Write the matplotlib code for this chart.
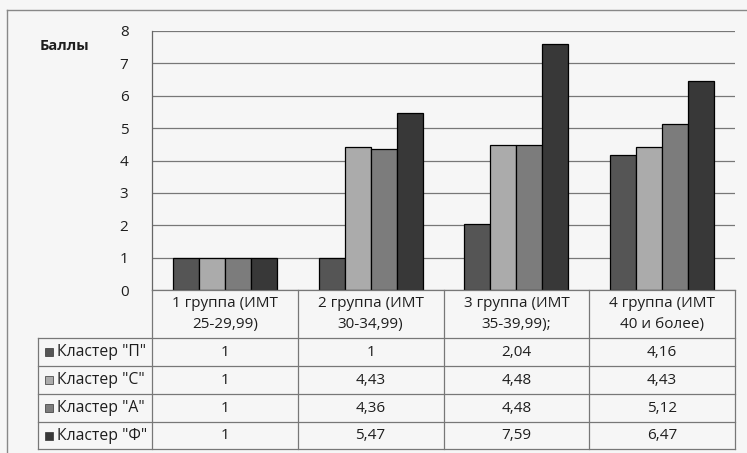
import matplotlib
matplotlib.use("Agg")
import matplotlib.pyplot as plt
from matplotlib.lines import Line2D
from matplotlib.patches import Rectangle

plt.rcParams["font.family"] = ["Open Sans", "DejaVu Sans"]

groups = ["1 группа (ИМТ\n25-29,99)", "2 группа (ИМТ\n30-34,99)",
          "3 группа (ИМТ\n35-39,99);", "4 группа (ИМТ\n40 и более)"]
series_names = ['Кластер "П"', 'Кластер "С"', 'Кластер "А"', 'Кластер "Ф"']
klaster_p = [1, 1, 2.04, 4.16]
klaster_s = [1, 4.43, 4.48, 4.43]
klaster_a = [1, 4.36, 4.48, 5.12]
klaster_f = [1, 5.47, 7.59, 6.47]
y_ticks = [0, 1, 2, 3, 4, 5, 6, 7, 8]

series = [klaster_p, klaster_s, klaster_a, klaster_f]
colors = ["#555555", "#ababab", "#7c7c7c", "#383838"]
BG = "#f6f6f6"
TXT = "#1e1e1e"

W, H = 747, 453
fig = plt.figure(figsize=(W / 100, H / 100), dpi=100, facecolor=BG)


def fx(px):
    return px / W


def fy(py):
    return 1 - py / H


# plot area in pixel coords of the picture
L, R, T, B = 152, 735, 31, 290
ax = fig.add_axes([fx(L), fy(B), fx(R - L), (B - T) / H], facecolor=BG)

bw = 0.178
for j, (vals, c) in enumerate(zip(series, colors)):
    xs = [i + (j - 1.5) * bw for i in range(len(groups))]
    ax.bar(xs, vals, width=bw, color=c, edgecolor="black", linewidth=0.9, zorder=3)

ax.set_xlim(-0.5, len(groups) - 0.5)
ax.set_ylim(0, 8)
ax.set_yticks(y_ticks)
ax.set_yticklabels([str(t) for t in y_ticks], fontsize=11, color=TXT)
ax.tick_params(axis="y", length=0, pad=17)
ax.set_xticks([])
ax.grid(axis="y", color="#777777", linewidth=0.9, zorder=0)
for s in ["top", "right", "bottom"]:
    ax.spines[s].set_visible(False)
ax.spines["left"].set_color("#666666")
ax.spines["left"].set_linewidth(0.9)

fig.text(fx(40), fy(46), "Баллы", fontsize=10.5, fontweight="bold",
         color=TXT, va="center", ha="left")

# outer frame of the chart
fig.add_artist(Line2D([fx(7), fx(W)], [fy(10), fy(10)], color="#888888", lw=1.0))
fig.add_artist(Line2D([fx(7), fx(7)], [fy(10), fy(H)], color="#888888", lw=1.0))

# data table under the plot
col_w = (R - L) / len(groups)
row_y = [290, 338, 366, 394, 422, 449]
lab_x = 38
lc = "#777777"
for k, y in enumerate(row_y):
    x0 = L if k == 0 else lab_x
    fig.add_artist(Line2D([fx(x0), fx(R)], [fy(y), fy(y)], color=lc, lw=0.9))
for i in range(len(groups) + 1):
    x = L + i * col_w
    fig.add_artist(Line2D([fx(x), fx(x)], [fy(row_y[0]), fy(row_y[-1])], color=lc, lw=0.9))
fig.add_artist(Line2D([fx(lab_x), fx(lab_x)], [fy(row_y[1]), fy(row_y[-1])], color=lc, lw=0.9))

for i, g in enumerate(groups):
    fig.text(fx(L + (i + 0.5) * col_w), fy((row_y[0] + row_y[1]) / 2), g,
             ha="center", va="center", fontsize=11, color=TXT, linespacing=1.5)

for j, (name, vals, c) in enumerate(zip(series_names, series, colors)):
    yc = (row_y[j + 1] + row_y[j + 2]) / 2
    fig.add_artist(Rectangle((fx(45), fy(yc + 4)), fx(8), 8 / H, facecolor=c,
                             edgecolor="#333333", lw=0.5))
    fig.text(fx(57), fy(yc), name, ha="left", va="center", fontsize=11.3, color=TXT)
    for i, v in enumerate(vals):
        txt = f"{v:g}".replace(".", ",")
        fig.text(fx(L + (i + 0.5) * col_w), fy(yc), txt, ha="center", va="center",
                 fontsize=11, color=TXT)

fig.savefig("out.png", dpi=100, facecolor=BG)
